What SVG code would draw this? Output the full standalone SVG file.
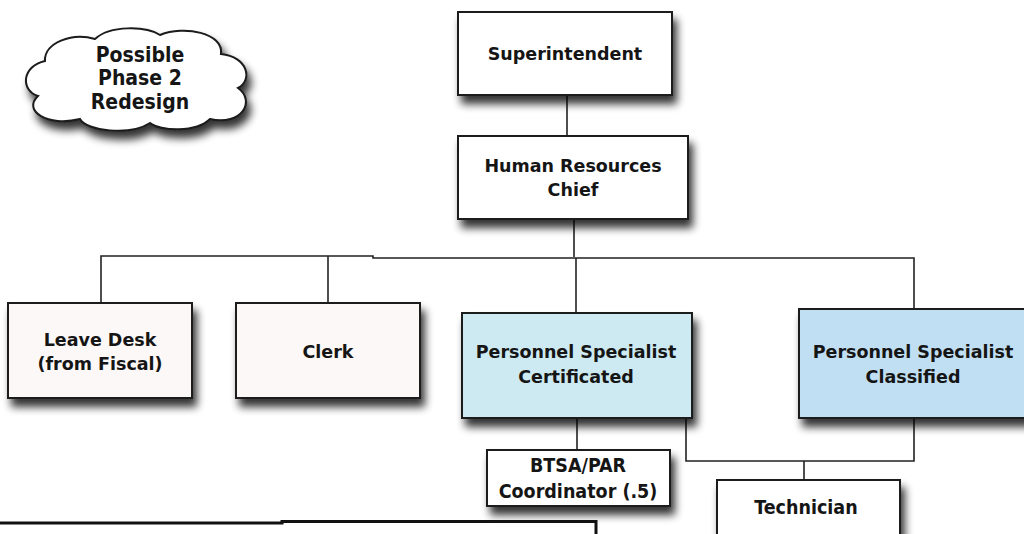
<svg xmlns="http://www.w3.org/2000/svg" width="1024" height="534" viewBox="0 0 1024 534">
<defs>
<filter id="sh" x="-20%" y="-20%" width="150%" height="160%">
<feGaussianBlur in="SourceAlpha" stdDeviation="4"/>
<feOffset dx="4" dy="8" result="b"/>
<feComponentTransfer><feFuncA type="linear" slope="0.8"/></feComponentTransfer>
<feMerge><feMergeNode/><feMergeNode in="SourceGraphic"/></feMerge>
</filter>
<style>
.box{stroke:#1a1a1a;stroke-width:2;filter:url(#sh)}
.w{fill:#ffffff}
.p{fill:#fcf8f7}
.c1{fill:#cdeaf2}
.c2{fill:#c1dff3}
.t{font-family:"DejaVu Sans",Verdana,sans-serif;font-weight:bold;font-size:17.5px;fill:#151515;text-anchor:middle}
.tc{font-family:"DejaVu Sans Condensed","DejaVu Sans",sans-serif;font-weight:bold;font-size:19.5px;fill:#151515;text-anchor:middle}
.ln{fill:none;stroke:#222;stroke-width:1.6}
</style>
</defs>
<rect width="1024" height="534" fill="#ffffff"/>

<g id="connectors">
<path class="ln" d="M567,95 V136"/>
<path class="ln" d="M574,219 V257"/>
<path class="ln" d="M101,303 V256 H373 V258 H914 V309"/>
<path class="ln" d="M328,256 V303"/>
<path class="ln" d="M576,258 V313"/>
<path class="ln" d="M577,418 V450"/>
<path class="ln" d="M686,418 V461 H914 V418"/>
<path class="ln" d="M804,461 V480"/>
</g>

<g id="cloud">
<path d="M38,96 C20,90 22,66 45,61 C44,43 72,32 95,39 C110,25 146,26 160,35 C184,25 224,33 221,54 C248,57 253,80 238,88 C256,101 242,126 210,119 C196,133 160,131 150,123 C130,136 86,131 80,119 C48,127 22,111 38,96 Z" fill="#ffffff" stroke="#1a1a1a" stroke-width="2" filter="url(#sh)"/>
<text class="tc" x="140" y="62" style="font-size:21px">Possible</text>
<text class="tc" x="140" y="85" style="font-size:21px">Phase 2</text>
<text class="tc" x="140" y="109" style="font-size:21px">Redesign</text>
</g>

<g id="superintendent">
<rect class="box w" x="458" y="12" width="214" height="83"/>
<text class="t" x="565" y="60">Superintendent</text>
</g>

<g id="hr-chief">
<rect class="box w" x="458" y="136" width="230" height="83"/>
<text class="t" x="573" y="172">Human Resources</text>
<text class="t" x="573" y="196">Chief</text>
</g>

<g id="leave-desk">
<rect class="box p" x="8" y="303" width="184" height="95"/>
<text class="t" x="100" y="346">Leave Desk</text>
<text class="t" x="100" y="370">(from Fiscal)</text>
</g>

<g id="clerk">
<rect class="box p" x="236" y="303" width="184" height="95"/>
<text class="t" x="328" y="358">Clerk</text>
</g>

<g id="ps-certificated">
<rect class="box c1" x="462" y="313" width="230" height="105"/>
<text class="t" x="576" y="358">Personnel Specialist</text>
<text class="t" x="576" y="383">Certificated</text>
</g>

<g id="ps-classified">
<rect class="box c2" x="799" y="309" width="240" height="109"/>
<text class="t" x="913" y="358">Personnel Specialist</text>
<text class="t" x="913" y="383">Classified</text>
</g>

<g id="btsa">
<rect class="box w" x="487" y="450" width="183" height="56"/>
<text class="tc" x="578" y="472">BTSA/PAR</text>
<text class="tc" x="578" y="498">Coordinator (.5)</text>
</g>

<g id="technician">
<rect class="box w" x="717" y="480" width="183" height="70"/>
<text class="tc" x="806" y="514">Technician</text>
</g>

<g id="legend">
<path d="M0,523 H282 V521.5 H596 V540" fill="none" stroke="#111" stroke-width="3"/>
</g>
</svg>
